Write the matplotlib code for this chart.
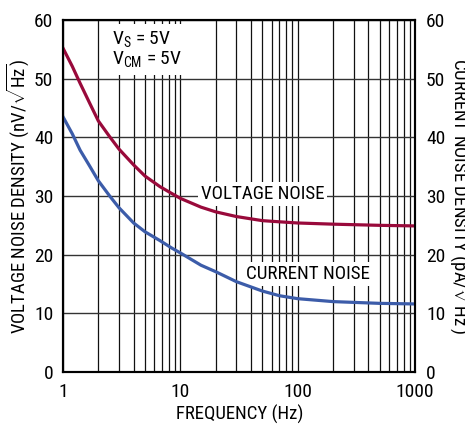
import numpy as np
import matplotlib
matplotlib.use("Agg")
import matplotlib.pyplot as plt
from matplotlib import font_manager
from matplotlib.ticker import FixedLocator, NullFormatter

# values
freq = [1, 1.2, 1.4, 1.7, 2, 2.5, 3, 4, 5, 6.7, 8.5, 10, 15, 20, 30, 50, 70, 100, 200, 500, 1000]
voltage_noise = [55.2, 52.1, 49.2, 45.7, 42.8, 40.1, 38.0, 35.3, 33.4, 31.6, 30.4, 29.6,
                 28.1, 27.3, 26.5, 25.8, 25.6, 25.4, 25.2, 25.0, 24.9]
current_noise = [43.5, 40.6, 37.8, 35.0, 32.6, 30.0, 28.0, 25.4, 23.9, 22.4, 21.1, 20.3,
                 18.2, 17.1, 15.4, 13.8, 13.0, 12.5, 12.0, 11.7, 11.6]
x_ticks = [1, 10, 100, 1000]
y_ticks = [0, 10, 20, 30, 40, 50, 60]

RED = "#990a3b"
BLUE = "#3c5ca9"

# narrow font if we have one
FONT = 'Liberation Sans'
for cand in ['Liberation Sans Narrow', 'Roboto Condensed', 'Open Sans Condensed']:
    try:
        font_manager.findfont(font_manager.FontProperties(family=cand), fallback_to_default=False)
        FONT = cand
        break
    except Exception:
        pass

plt.rcParams['font.family'] = [FONT, 'DejaVu Sans']
plt.rcParams['mathtext.fontset'] = 'custom'
plt.rcParams['mathtext.rm'] = FONT
plt.rcParams['mathtext.it'] = FONT
plt.rcParams['mathtext.sf'] = FONT

W, H = 465, 425
fig = plt.figure(figsize=(W/100, H/100), dpi=100)
ax = fig.add_axes([63/W, 53/H, 352/W, 352/H])

ax.set_xscale('log')
ax.set_xlim(1, 1000)
ax.set_ylim(0, 60)

minor = [m * 10**d for d in range(3) for m in range(2, 10)]
ax.xaxis.set_major_locator(FixedLocator(x_ticks))
ax.xaxis.set_minor_locator(FixedLocator(minor))
ax.xaxis.set_minor_formatter(NullFormatter())
ax.set_xticks(x_ticks)
ax.set_xticklabels([str(t) for t in x_ticks])
ax.set_yticks(y_ticks)

ax.grid(True, which='both', axis='x', color='#111111', lw=0.9)
ax.grid(True, which='major', axis='y', color='#333333', lw=1.0)
ax.set_axisbelow(True)
ax.tick_params(axis='y', which='both', length=0, labelsize=14, pad=7)
ax.tick_params(axis='x', which='both', length=0, labelsize=14, pad=8)

for s in ax.spines.values():
    s.set_linewidth(1.5)

ax.plot(freq, voltage_noise, color=RED, lw=2.3, zorder=3)
ax.plot(freq, current_noise, color=BLUE, lw=2.3, zorder=3)

ax.text(2.6, 58.4, "V$_\\mathrm{S}$ = 5V\nV$_\\mathrm{CM}$ = 5V", fontsize=14,
        va='top', ha='left', linespacing=1.0,
        bbox=dict(facecolor='white', edgecolor='none', pad=4), zorder=2)
ax.text(15.0, 30.3, "VOLTAGE NOISE", fontsize=13.7, va='center', ha='left',
        bbox=dict(facecolor='white', edgecolor='none', pad=2), zorder=2)
ax.text(36.0, 16.7, "CURRENT NOISE", fontsize=13.7, va='center', ha='left',
        bbox=dict(facecolor='white', edgecolor='none', pad=2), zorder=2)

ax2 = ax.twinx()
ax2.set_ylim(0, 60)
ax2.set_yticks(y_ticks)
ax2.tick_params(length=0, labelsize=14, pad=8)
for s in ax2.spines.values():
    s.set_linewidth(1.5)

fig.text(240/W, 1 - 414/H, "FREQUENCY (Hz)", fontsize=13.5, ha='center', va='center')
fig.text(18/W, 1 - 196/H, "VOLTAGE NOISE DENSITY (nV/$\\sqrt{\\mathrm{Hz}}$)", fontsize=13.5,
         rotation=90, ha='center', va='center')
fig.text(448/W, 1 - 196/H, "CURRENT NOISE DENSITY (pA/$\\sqrt{\\mathrm{Hz}}$)", fontsize=13.5,
         rotation=270, ha='left', va='center')

fig.savefig("out.png", dpi=100)
